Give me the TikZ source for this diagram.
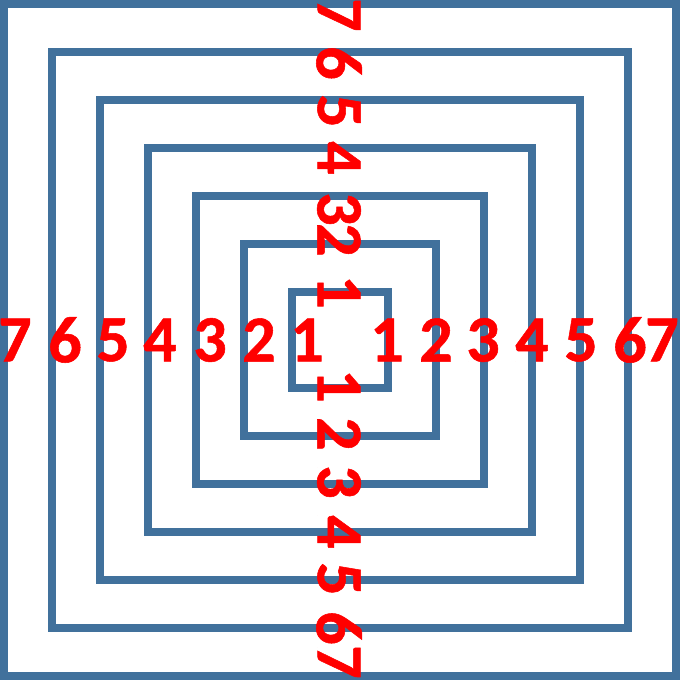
\documentclass[tikz,border=0pt]{standalone}
\usepackage{fontspec}
\setmainfont{Carlito}
\newfontfamily\numfont{Carlito}[UprightFont=* Bold,FakeBold=0.8]
\definecolor{sqblue}{RGB}{65,113,156}
\definecolor{numred}{RGB}{255,0,0}
\begin{document}
\begin{tikzpicture}[x=1pt,y=-1pt,
  sq/.style={draw=sqblue,line width=8pt,inner sep=0pt,outer sep=0pt},
  num/.style={text=numred,font=\fontsize{66}{66}\selectfont\numfont,inner sep=0pt,anchor=center},
  vnum/.style={num,rotate=-90}]
\useasboundingbox (0,0) rectangle (680,680);
\fill[white] (0,0) rectangle (680,680);
% squares
\foreach \i/\h in {1/48,2/96,3/144,4/192,5/240,6/288,7/336}{
  \node[sq,minimum size=2*\h pt] (s\i) at (340,340) {};
}
% horizontal row
\foreach \n/\x/\t in {h7/15/7,h6/65/6,h5/113/5,h4/160/4,h3/210/3,h2/259/2,h1/307/1,
  r1/387/1,r2/436/2,r3/483/3,r4/532/4,r5/581/5,r6/630/6,r7/662/7}{
  \node[num] (\n) at (\x,340) {\t};
}
% vertical column
\foreach \n/\y/\t in {t7/15/7,t6/63/6,t5/111/5,t4/158/4,t3/209/3,t2/240/2,t1/292/1,
  b1/386/1,b2/434/2,b3/482/3,b4/532/4,b5/579/5,b6/628/6,b7/662/7}{
  \node[vnum] (\n) at (339,\y) {\t};
}
\end{tikzpicture}
\end{document}
